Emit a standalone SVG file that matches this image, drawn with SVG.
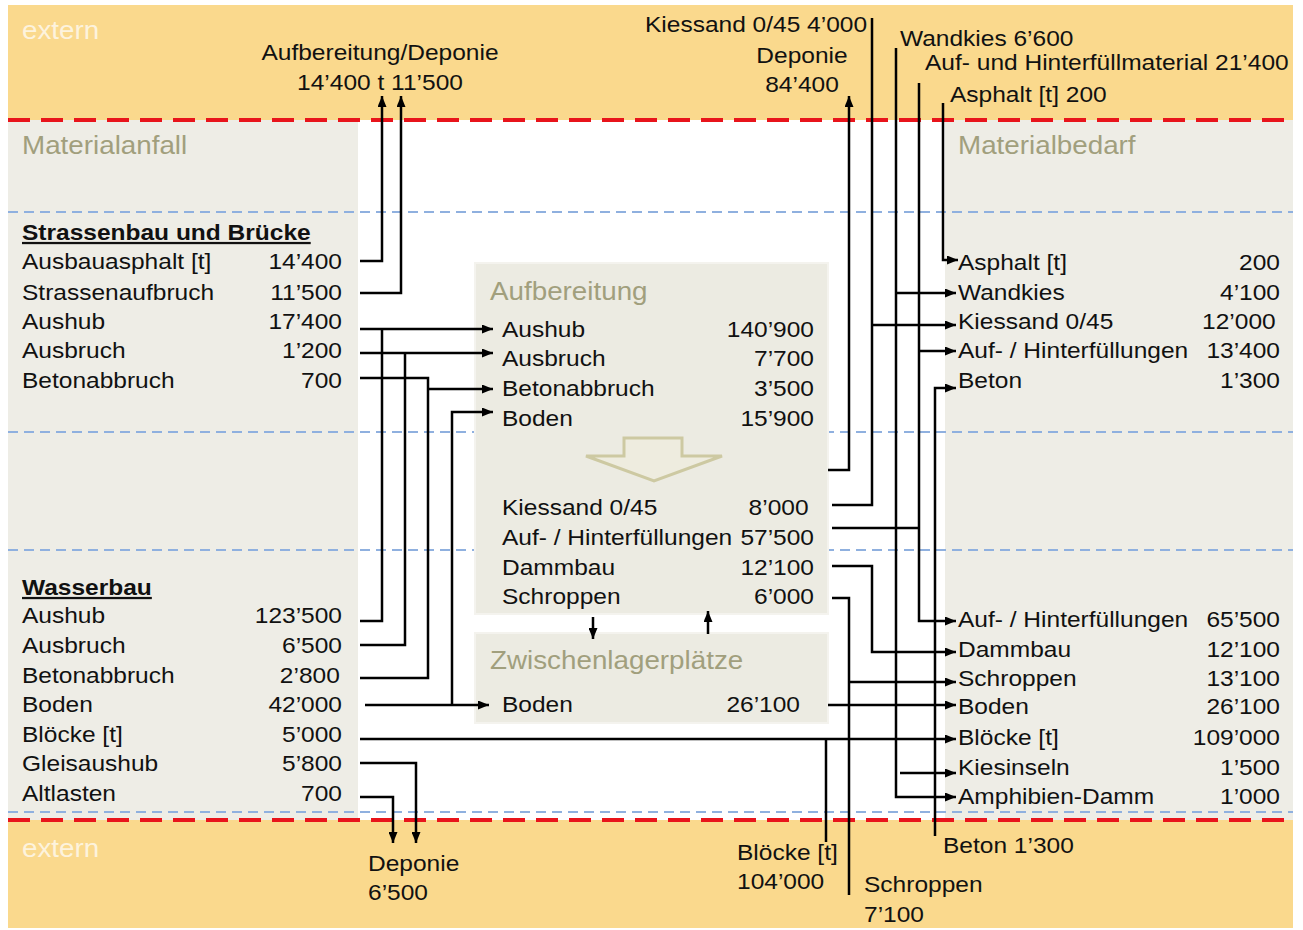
<svg xmlns="http://www.w3.org/2000/svg" width="1303" height="930" viewBox="0 0 1303 930">
<style>
text{font-family:"Liberation Sans",Arial,sans-serif;font-size:22.5px;fill:#111}
.h{font-weight:bold;text-decoration:underline}
.t{font-size:25.5px;fill:#a19f7d}
.x{font-size:25.5px;fill:#fff;opacity:0.7}
.e{text-anchor:end}
.c{stroke:#000;stroke-width:2.5;fill:none}
.a{marker-end:url(#ah)}
.red{stroke:#e8141b;stroke-width:4;stroke-dasharray:22 11;fill:none}
.blue{stroke:#8fb0df;stroke-width:2;stroke-dasharray:10 6;fill:none}
.box{fill:#ecebe2;stroke:#f4f3ee;stroke-width:2}
</style>
<defs>
<marker id="ah" markerUnits="userSpaceOnUse" markerWidth="11" markerHeight="9" refX="11" refY="4.5" orient="auto">
<path d="M0,0 L11,4.5 L0,9 z" fill="#000"/>
</marker>
</defs>
<rect x="0" y="0" width="1303" height="930" fill="#fff"/>
<g id="background">
<rect x="8" y="5" width="1285" height="923" fill="#fad98d"/>
<rect x="8" y="120" width="1285" height="700" fill="#fff"/>
<rect x="8" y="120" width="350" height="700" fill="#eeede6"/>
<rect x="945" y="120" width="348" height="700" fill="#eeede6"/>
<path class="blue" d="M8,212 H1293 M8,432 H1293 M8,550 H1293 M8,812 H1293"/>
<path class="red" d="M8,120 H1293 M8,820 H1293"/>
<g transform="translate(22,0) scale(1.09,1)">
<text class="x" x="0" y="39">extern</text>
<text class="x" x="0" y="857">extern</text>
</g>
</g>
<g id="materialanfall">
<g transform="translate(22,0) scale(1.09,1)">
<text class="t" x="0" y="154">Materialanfall</text>
<text class="h" x="0" y="240">Strassenbau und Brücke</text>
<text x="0" y="269">Ausbauasphalt [t]</text>
<text x="0" y="300">Strassenaufbruch</text>
<text x="0" y="329">Aushub</text>
<text x="0" y="358">Ausbruch</text>
<text x="0" y="388">Betonabbruch</text>
<text class="h" x="0" y="595">Wasserbau</text>
<text x="0" y="623">Aushub</text>
<text x="0" y="653">Ausbruch</text>
<text x="0" y="683">Betonabbruch</text>
<text x="0" y="712">Boden</text>
<text x="0" y="742">Blöcke [t]</text>
<text x="0" y="771">Gleisaushub</text>
<text x="0" y="801">Altlasten</text>
</g>
<g transform="translate(342,0) scale(1.09,1)">
<text class="e" x="0" y="269">14’400</text>
<text class="e" x="0" y="300">11’500</text>
<text class="e" x="0" y="329">17’400</text>
<text class="e" x="0" y="358">1’200</text>
<text class="e" x="0" y="388">700</text>
<text class="e" x="0" y="623">123’500</text>
<text class="e" x="0" y="653">6’500</text>
<text class="e" x="-2" y="683">2’800</text>
<text class="e" x="0" y="712">42’000</text>
<text class="e" x="0" y="742">5’000</text>
<text class="e" x="0" y="771">5’800</text>
<text class="e" x="0" y="801">700</text>
</g>
</g>
<g id="aufbereitung">
<rect class="box" x="475" y="263" width="353" height="351"/>
<polygon points="624,438 682,438 682,456 722,456 654,481 586,456 624,456" fill="#eeecdf" stroke="#cdc9a2" stroke-width="3"/>
<g transform="translate(490,0) scale(1.09,1)">
<text class="t" x="0" y="300">Aufbereitung</text>
</g>
<g transform="translate(502,0) scale(1.09,1)">
<text x="0" y="337">Aushub</text>
<text x="0" y="366">Ausbruch</text>
<text x="0" y="396">Betonabbruch</text>
<text x="0" y="426">Boden</text>
<text x="0" y="515">Kiessand 0/45</text>
<text x="0" y="545">Auf- / Hinterfüllungen</text>
<text x="0" y="575">Dammbau</text>
<text x="0" y="604">Schroppen</text>
</g>
<g transform="translate(814,0) scale(1.09,1)">
<text class="e" x="0" y="337">140’900</text>
<text class="e" x="0" y="366">7’700</text>
<text class="e" x="0" y="396">3’500</text>
<text class="e" x="0" y="426">15’900</text>
<text class="e" x="-5" y="515">8’000</text>
<text class="e" x="0" y="545">57’500</text>
<text class="e" x="0" y="575">12’100</text>
<text class="e" x="0" y="604">6’000</text>
</g>
</g>
<g id="zwischenlager">
<rect class="box" x="475" y="633" width="353" height="90"/>
<g transform="translate(490,0) scale(1.09,1)">
<text class="t" x="0" y="669">Zwischenlagerplätze</text>
</g>
<g transform="translate(502,0) scale(1.09,1)">
<text x="0" y="712">Boden</text>
</g>
<g transform="translate(800,0) scale(1.09,1)">
<text class="e" x="0" y="712">26’100</text>
</g>
</g>
<g id="materialbedarf">
<g transform="translate(958,0) scale(1.09,1)">
<text class="t" x="0" y="154">Materialbedarf</text>
<text x="0" y="270">Asphalt [t]</text>
<text x="0" y="300">Wandkies</text>
<text x="0" y="329">Kiessand 0/45</text>
<text x="0" y="358">Auf- / Hinterfüllungen</text>
<text x="0" y="388">Beton</text>
<text x="0" y="627">Auf- / Hinterfüllungen</text>
<text x="0" y="657">Dammbau</text>
<text x="0" y="686">Schroppen</text>
<text x="0" y="714">Boden</text>
<text x="0" y="745">Blöcke [t]</text>
<text x="0" y="775">Kiesinseln</text>
<text x="0" y="804">Amphibien-Damm</text>
</g>
<g transform="translate(1280,0) scale(1.09,1)">
<text class="e" x="0" y="270">200</text>
<text class="e" x="0" y="300">4’100</text>
<text class="e" x="-4" y="329">12’000</text>
<text class="e" x="0" y="358">13’400</text>
<text class="e" x="0" y="388">1’300</text>
<text class="e" x="0" y="627">65’500</text>
<text class="e" x="0" y="657">12’100</text>
<text class="e" x="0" y="686">13’100</text>
<text class="e" x="0" y="714">26’100</text>
<text class="e" x="0" y="745">109’000</text>
<text class="e" x="0" y="775">1’500</text>
<text class="e" x="0" y="804">1’000</text>
</g>
</g>
<g id="extern-labels">
<g transform="translate(380,0) scale(1.09,1)">
<text x="0" y="60" text-anchor="middle">Aufbereitung/Deponie</text>
<text x="0" y="90" text-anchor="middle">14’400 t 11’500</text>
</g>
<g transform="translate(645,0) scale(1.09,1)"><text x="0" y="32">Kiessand 0/45 4’000</text></g>
<g transform="translate(802,0) scale(1.09,1)">
<text x="0" y="63" text-anchor="middle">Deponie</text>
<text x="0" y="92" text-anchor="middle">84’400</text>
</g>
<g transform="translate(900,0) scale(1.09,1)"><text x="0" y="46">Wandkies 6’600</text></g>
<g transform="translate(925,0) scale(1.09,1)"><text x="0" y="70">Auf- und Hinterfüllmaterial 21’400</text></g>
<g transform="translate(950,0) scale(1.09,1)"><text x="0" y="102">Asphalt [t] 200</text></g>
<g transform="translate(368,0) scale(1.09,1)">
<text x="0" y="871">Deponie</text>
<text x="0" y="900">6’500</text>
</g>
<g transform="translate(737,0) scale(1.09,1)">
<text x="0" y="860">Blöcke [t]</text>
<text x="0" y="889">104’000</text>
</g>
<g transform="translate(864,0) scale(1.09,1)">
<text x="0" y="892">Schroppen</text>
<text x="0" y="922">7’100</text>
</g>
<g transform="translate(943,0) scale(1.09,1)"><text x="0" y="853">Beton 1’300</text></g>
</g>
<g id="connectors">
<path class="c a" d="M360,261 H382 V96"/>
<path class="c a" d="M360,293 H401 V96"/>
<path class="c a" d="M360,329 H493"/>
<path class="c" d="M360,621 H382 V329"/>
<path class="c a" d="M360,353 H493"/>
<path class="c" d="M360,645 H405 V353"/>
<path class="c" d="M360,378 H428 V678 H360"/>
<path class="c a" d="M428,389 H493"/>
<path class="c a" d="M452,705 V412 H493"/>
<path class="c a" d="M365,705 H489"/>
<path class="c a" d="M360,739 H956"/>
<path class="c a" d="M360,763 H416 V843"/>
<path class="c a" d="M360,797 H393 V843"/>
<path class="c a" d="M593,617 V639"/>
<path class="c a" d="M708,634 V611"/>
<path class="c a" d="M828,470 H849 V96"/>
<path class="c" d="M832,505 H872 V18"/>
<path class="c a" d="M872,325 H956"/>
<path class="c a" d="M896,48 V797 H956"/>
<path class="c a" d="M896,293 H956"/>
<path class="c a" d="M900,773 H956"/>
<path class="c a" d="M919,83 V621 H956"/>
<path class="c a" d="M919,351 H956"/>
<path class="c" d="M832,528 H919"/>
<path class="c a" d="M943,103 V260 H958"/>
<path class="c a" d="M935,836 V388 H956"/>
<path class="c a" d="M832,566 H872 V652 H956"/>
<path class="c" d="M832,598 H849 V895"/>
<path class="c a" d="M849,682 H956"/>
<path class="c a" d="M828,705 H956"/>
<path class="c" d="M826,739 V842"/>
</g>
</svg>
